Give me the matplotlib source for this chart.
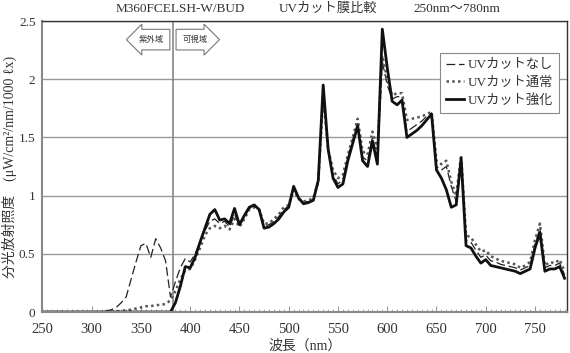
import matplotlib
matplotlib.use("Agg")
import matplotlib.pyplot as plt
from matplotlib.ticker import MultipleLocator

plt.rcParams['font.family'] = ['Liberation Serif', 'Noto Sans CJK JP', 'DejaVu Sans']

# wavelength 250..780 nm, every 5 nm
wavelength = list(range(250, 781, 5))

# UVカットなし (dashed)
uv_none = [0, 0, 0, 0, 0, 0, 0, 0, 0, 0, 0, 0, 0,
           0.01, 0.02, 0.04, 0.08, 0.13, 0.28, 0.43, 0.57, 0.59, 0.47, 0.63, 0.55, 0.44, 0.13,
           0.26, 0.38, 0.46, 0.43, 0.50, 0.60, 0.70, 0.78, 0.80, 0.76, 0.78, 0.73, 0.84, 0.74,
           0.82, 0.89, 0.91, 0.88, 0.74, 0.75, 0.78, 0.82, 0.88, 0.91, 1.06, 0.98, 0.94, 0.95,
           0.97, 1.12, 1.90, 1.40, 1.18, 1.10, 1.14, 1.32, 1.48, 1.62, 1.33, 1.30, 1.50, 1.33,
           2.15, 1.95, 1.83, 1.85, 1.85, 1.55, 1.58, 1.61, 1.64, 1.68, 1.71, 1.25, 1.22, 1.25,
           1.08, 0.95, 1.33, 0.62, 0.60, 0.53, 0.47, 0.49, 0.44, 0.43, 0.41, 0.40, 0.39, 0.38,
           0.36, 0.38, 0.40, 0.58, 0.72, 0.38, 0.40, 0.40, 0.42, 0.32]

# UVカット通常 (dotted)
uv_normal = [0, 0, 0, 0, 0, 0, 0, 0, 0, 0, 0, 0, 0, 0,
             0.003, 0.005, 0.01, 0.015, 0.02, 0.03, 0.04, 0.05, 0.05, 0.06, 0.06, 0.07, 0.10,
             0.18, 0.28, 0.36, 0.37, 0.45, 0.55, 0.66, 0.72, 0.74, 0.72, 0.74, 0.71, 0.80, 0.73,
             0.80, 0.88, 0.90, 0.88, 0.76, 0.76, 0.80, 0.84, 0.90, 0.92, 1.05, 0.97, 0.95, 0.96,
             0.98, 1.12, 1.85, 1.40, 1.22, 1.15, 1.18, 1.35, 1.50, 1.66, 1.38, 1.35, 1.55, 1.40,
             2.20, 2.00, 1.86, 1.88, 1.88, 1.65, 1.66, 1.67, 1.68, 1.70, 1.72, 1.30, 1.27, 1.30,
             1.12, 1.00, 1.35, 0.66, 0.64, 0.58, 0.52, 0.53, 0.48, 0.46, 0.44, 0.43, 0.42, 0.41,
             0.38, 0.40, 0.43, 0.62, 0.76, 0.40, 0.43, 0.42, 0.45, 0.35]

# UVカット強化 (solid)
uv_strong = [0, 0, 0, 0, 0, 0, 0, 0, 0, 0, 0, 0, 0, 0, 0, 0, 0, 0, 0, 0, 0, 0, 0, 0, 0, 0, 0,
             0.08, 0.22, 0.39, 0.38, 0.47, 0.60, 0.72, 0.84, 0.88, 0.79, 0.80, 0.76, 0.89, 0.75,
             0.83, 0.90, 0.92, 0.88, 0.72, 0.73, 0.76, 0.80, 0.86, 0.90, 1.08, 0.98, 0.93, 0.94,
             0.96, 1.13, 1.95, 1.40, 1.15, 1.07, 1.10, 1.30, 1.45, 1.60, 1.30, 1.25, 1.47, 1.27,
             2.43, 2.10, 1.81, 1.78, 1.82, 1.50, 1.53, 1.56, 1.60, 1.65, 1.70, 1.22, 1.15, 1.05,
             0.90, 0.92, 1.32, 0.57, 0.55, 0.48, 0.42, 0.45, 0.40, 0.39, 0.38, 0.37, 0.36, 0.35,
             0.33, 0.35, 0.37, 0.55, 0.68, 0.35, 0.37, 0.37, 0.39, 0.29]

labels = ['UVカットなし', 'UVカット通常', 'UVカット強化']

fig = plt.figure(figsize=(5.7, 3.53), dpi=100)
ax = fig.add_axes([0.0744, 0.1161, 0.9204, 0.8244])

ax.plot(wavelength, uv_none, color='#222222', lw=0.9, dashes=(7, 3), label=labels[0])
ax.plot(wavelength, uv_normal, color='#555555', lw=1.8, ls=(0, (1, 1.3)), label=labels[1])
ax.plot(wavelength, uv_strong, color='#111111', lw=2.0, label=labels[2])

ax.set_xlim(250, 782.5)
ax.set_ylim(0, 2.5)
ax.xaxis.set_major_locator(MultipleLocator(50))
ax.xaxis.set_minor_locator(MultipleLocator(5))
ax.set_yticks([0, 0.5, 1, 1.5, 2, 2.5])
ax.set_yticklabels(['0', '0.5', '1', '1.5', '2', '2.5'])

ax.grid(axis='y', color='#999999', lw=1.0)
ax.set_axisbelow(True)
ax.axvline(382.5, color='#888888', lw=1.2, zorder=1)

for s in ['left', 'bottom']:
    ax.spines[s].set_color('#888888')
    ax.spines[s].set_linewidth(1.5)
for s in ['top', 'right']:
    ax.spines[s].set_color('#333333')
    ax.spines[s].set_linewidth(1.0)

ax.tick_params(axis='x', which='major', direction='in', length=4, color='#999999',
               labelsize=10.5, labelcolor='#333333', pad=8)
ax.tick_params(axis='x', which='minor', direction='in', length=2, color='#999999')
ax.tick_params(axis='y', which='major', length=0, labelsize=9.5, labelcolor='#333333', pad=5)

ax.set_xlabel('波長（nm）', fontsize=10, color='#333333', labelpad=2)
ax.set_ylabel('分光放射照度　(μW/cm²/nm/1000 ℓx)', fontsize=10, color='#333333')
ax.yaxis.set_label_coords(-0.048, 0.5)

# region arrows
ax.text(373, 2.34, '紫外域', fontsize=6, ha='right', va='center', color='#333333',
        bbox=dict(boxstyle='larrow,pad=0.75', fc='white', ec='#777777', lw=0.8))
ax.text(392, 2.34, '可視域', fontsize=6, ha='left', va='center', color='#333333',
        bbox=dict(boxstyle='rarrow,pad=0.75', fc='white', ec='#777777', lw=0.8))

leg = ax.legend(loc='upper right', bbox_to_anchor=(0.984, 0.89), fontsize=9.5,
                handlelength=1.4, handletextpad=0.25, borderpad=0.45, labelspacing=0.4,
                borderaxespad=0, fancybox=False, framealpha=1, edgecolor='#888888')
leg.get_frame().set_linewidth(0.8)
for t in leg.get_texts():
    t.set_color('#333333')

fig.text(0.316, 0.975, 'M360FCELSH-W/BUD', ha='center', va='center', fontsize=9.5, color='#333333')
fig.text(0.575, 0.975, 'UVカット膜比較', ha='center', va='center', fontsize=9.5, color='#333333')
fig.text(0.802, 0.975, '250nm～780nm', ha='center', va='center', fontsize=9.5, color='#333333')

fig.savefig('out.png', dpi=100)
